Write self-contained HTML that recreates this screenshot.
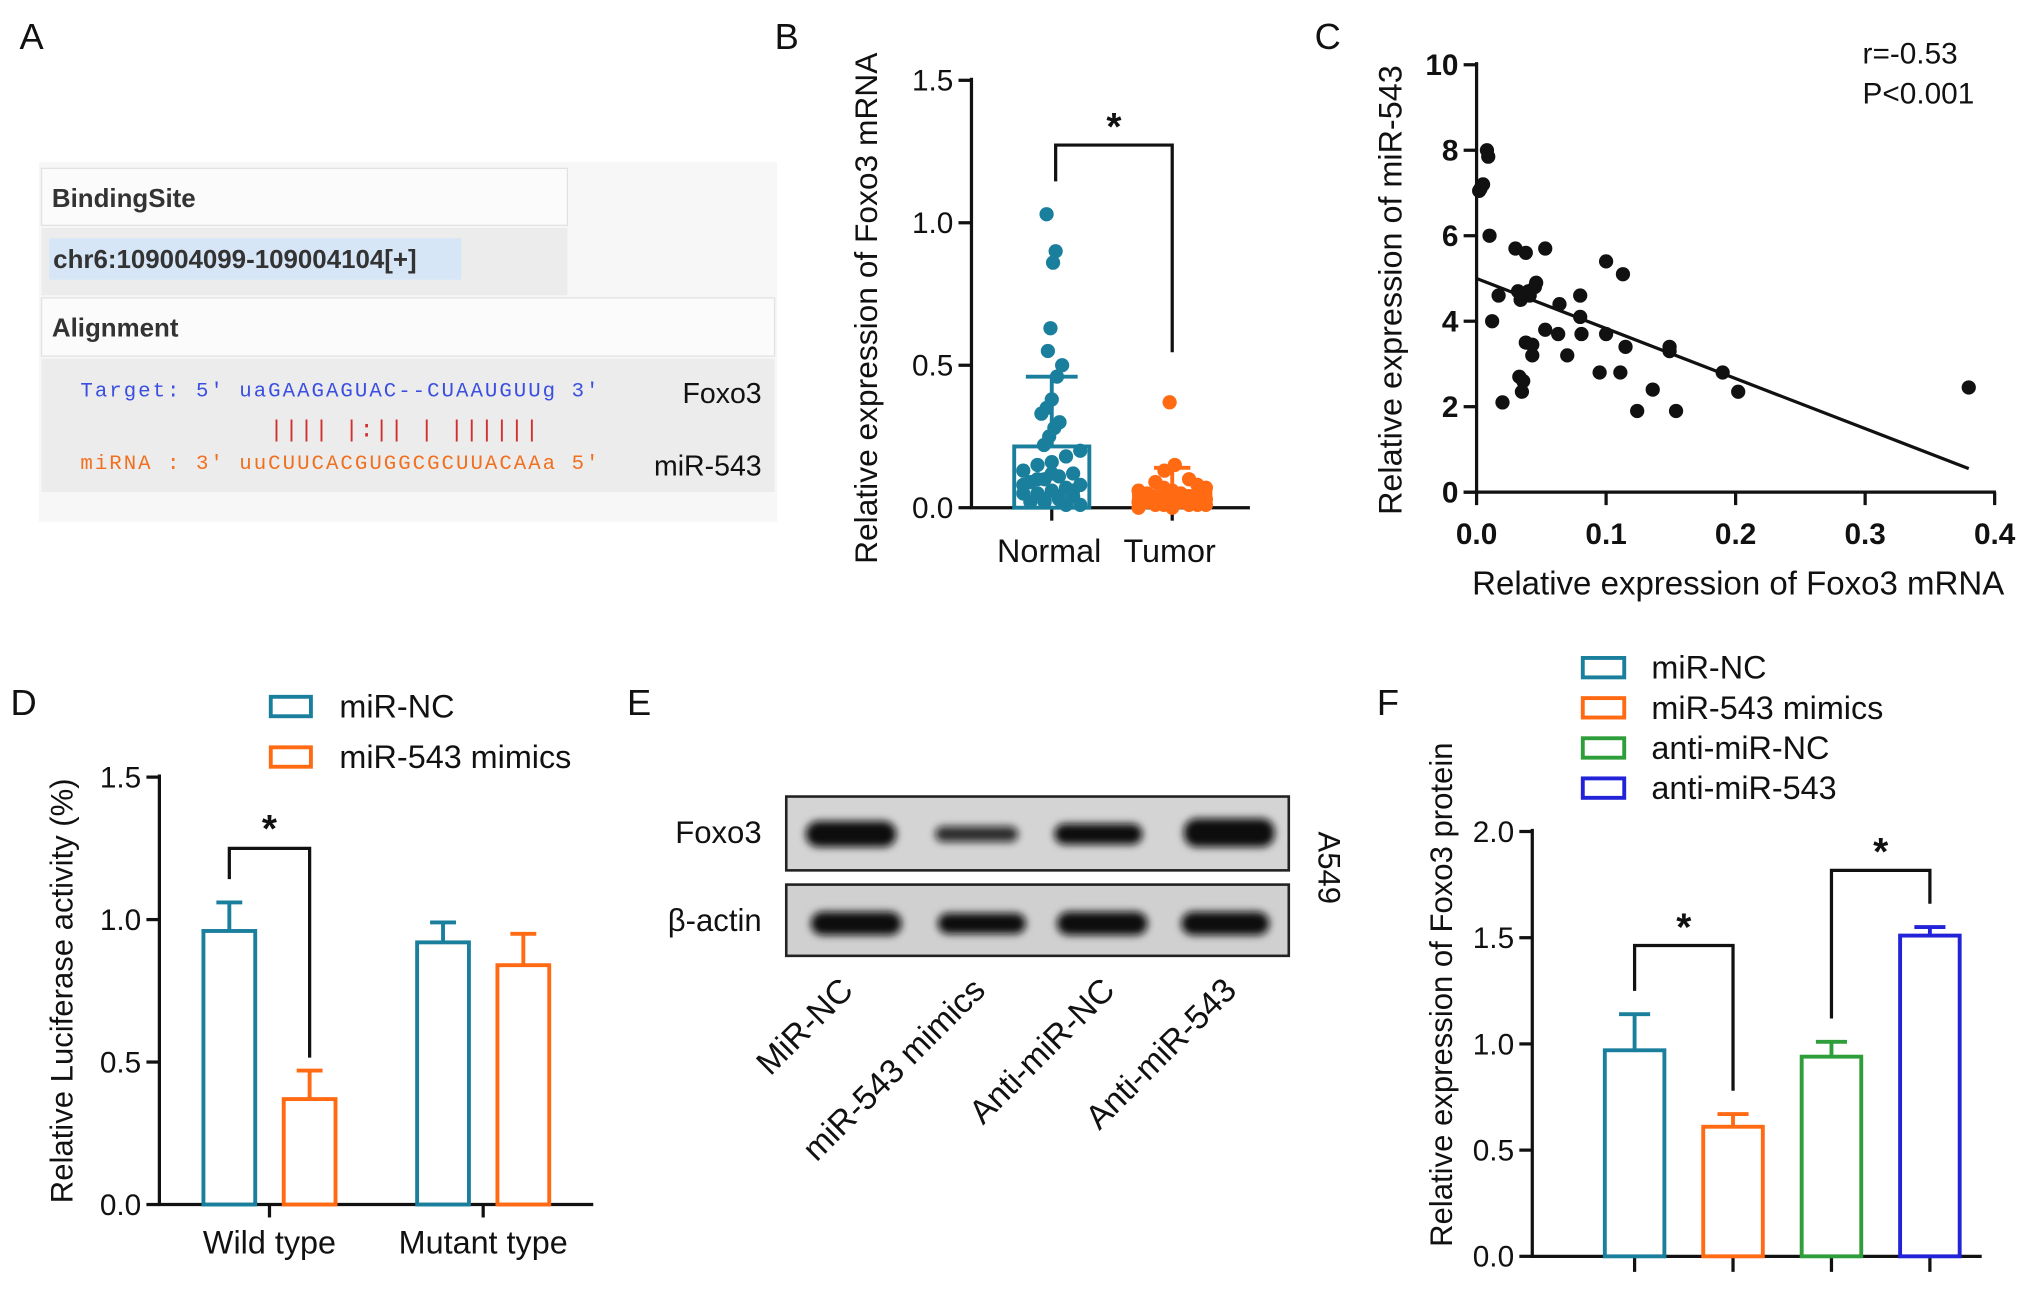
<!DOCTYPE html>
<html><head><meta charset="utf-8"><style>
html,body{margin:0;padding:0;background:#fff;}
svg{display:block;}
text{font-family:"Liberation Sans",Arial,sans-serif;}
.mono{font-family:"Liberation Mono","DejaVu Sans Mono",monospace;}
</style></head><body>
<svg id="fig" width="2031" height="1290" viewBox="0 0 1568 996" xmlns="http://www.w3.org/2000/svg">
<g font-size="28" fill="#111">
<text x="15" y="38">A</text>
<text x="598" y="38">B</text>
<text x="1015" y="38">C</text>
<text x="8" y="552">D</text>
<text x="484" y="552">E</text>
<text x="1063" y="552">F</text>
</g>
<g>
<rect x="30" y="125" width="570" height="278" fill="#f7f7f7"/>
<rect x="32" y="130" width="406" height="44" fill="#fbfbfb" stroke="#e2e2e2"/>
<text x="40" y="160" font-size="20" font-weight="bold" fill="#333">BindingSite</text>
<rect x="32" y="176" width="406" height="52" fill="#ececec"/>
<rect x="38" y="184" width="318" height="32" fill="#d6e6f7"/>
<text x="41" y="207" font-size="20" font-weight="bold" fill="#333">chr6:109004099-109004104[+]</text>
<rect x="32" y="230" width="566" height="45" fill="#fbfbfb" stroke="#e2e2e2"/>
<text x="40" y="260" font-size="20" font-weight="bold" fill="#333">Alignment</text>
<rect x="32" y="277" width="566" height="103" fill="#ececec"/>
<text x="62" y="306" font-size="16" class="mono" fill="#3a4fe0" textLength="400" lengthAdjust="spacing">Target: 5' uaGAAGAGUAC--CUAAUGUUg 3'</text>
<text x="208" y="337" font-size="18" class="mono" fill="#d03030" textLength="208" lengthAdjust="spacing">|||| |:|| | ||||||</text>
<text x="62" y="362" font-size="16" class="mono" fill="#f07020" textLength="400" lengthAdjust="spacing">miRNA : 3' uuCUUCACGUGGCGCUUACAAa 5'</text>
<text x="588" y="311" font-size="22" fill="#111" text-anchor="end">Foxo3</text>
<text x="588" y="367" font-size="22" fill="#111" text-anchor="end">miR-543</text>
</g>
<g id="pB"></g>
<g id="pC"></g>
<g id="pD"></g>
<g>
<defs><filter id="blur" x="-20%" y="-50%" width="140%" height="200%"><feGaussianBlur stdDeviation="3"/></filter></defs>
<rect x="607" y="615" width="388" height="57" fill="#d4d4d4" stroke="#222" stroke-width="2"/>
<rect x="607" y="683" width="388" height="55" fill="#d0d0d0" stroke="#222" stroke-width="2"/>
<g filter="url(#blur)" fill="#0a0a0a">
<rect x="622" y="634" width="70" height="20" rx="10"/>
<rect x="722" y="638" width="64" height="12" rx="6" opacity="0.85"/>
<rect x="814" y="636" width="68" height="16" rx="8"/>
<rect x="914" y="632" width="70" height="22" rx="10"/>
<rect x="626" y="704" width="70" height="18" rx="9"/>
<rect x="724" y="705" width="68" height="16" rx="8"/>
<rect x="816" y="704" width="70" height="18" rx="9"/>
<rect x="912" y="704" width="68" height="18" rx="9"/>
</g>
<text x="588" y="651" font-size="24" text-anchor="end" fill="#111">Foxo3</text>
<text x="588" y="719" font-size="24" text-anchor="end" fill="#111">β-actin</text>
<text transform="translate(1018,642) rotate(90)" font-size="24" fill="#111">A549</text>
<g font-size="26" fill="#111" text-anchor="end">
<text transform="translate(660,766) rotate(-45)">MiR-NC</text>
<text transform="translate(762,766) rotate(-45)">miR-543 mimics</text>
<text transform="translate(862,766) rotate(-45)">Anti-miR-NC</text>
<text transform="translate(956,766) rotate(-45)">Anti-miR-543</text>
</g>
</g>
<g id="pF"></g>
</svg>
<script>
// ---------- Panel B data ----------
const bCategories = ["Normal", "Tumor"];
const bMeans = [0.215, 0.065];
const bSD = [0.245, 0.075];
const bNormalPoints = [1.03,0.9,0.86,0.63,0.55,0.5,0.46,0.38,0.35,0.33,0.3,0.28,0.25,0.22,0.2,0.18,0.16,0.15,0.13,0.12,0.11,0.1,0.09,0.08,0.07,0.06,0.05,0.05,0.04,0.03,0.02,0.02,0.01,0.01,0.12,0.1,0.08,0.06,0.04,0.03];
const bTumorPoints = [0.37,0.15,0.13,0.1,0.09,0.08,0.07,0.07,0.06,0.06,0.05,0.05,0.04,0.04,0.03,0.03,0.03,0.02,0.02,0.02,0.02,0.01,0.01,0.01,0.01,0.01,0.0,0.0,0.05,0.04,0.03,0.02];
const bTicks = [0, 0.5, 1.0, 1.5];
const bTickLabels = ["0.0", "0.5", "1.0", "1.5"];
// ---------- Panel C data ----------
const cX = [0.008,0.009,0.005,0.002,0.003,0.01,0.012,0.017,0.02,0.03,0.032,0.034,0.035,0.033,0.036,0.038,0.038,0.04,0.041,0.043,0.043,0.045,0.046,0.053,0.053,0.064,0.063,0.07,0.08,0.08,0.081,0.095,0.1,0.1,0.111,0.113,0.115,0.124,0.136,0.149,0.149,0.154,0.19,0.202,0.38];
const cY = [8.0,7.85,7.2,7.05,7.1,6.0,4.0,4.6,2.1,5.7,4.7,4.5,2.35,2.7,2.6,5.6,3.5,4.7,4.6,3.45,3.2,4.8,4.9,5.7,3.8,4.4,3.7,3.2,4.6,4.1,3.7,2.8,5.4,3.7,2.8,5.1,3.4,1.9,2.4,3.4,3.3,1.9,2.8,2.35,2.45];
const cFitX = [0, 0.38];
const cFitY = [5.0, 0.55];
const cXTicks = [0, 0.1, 0.2, 0.3, 0.4];
const cXTickLabels = ["0.0", "0.1", "0.2", "0.3", "0.4"];
const cYTicks = [0, 2, 4, 6, 8, 10];
// ---------- Panel D data ----------
const dGroups = ["Wild type", "Mutant type"];
const dSeries = ["miR-NC", "miR-543 mimics"];
const dNC = [0.96, 0.92];
const dNCerr = [0.10, 0.07];
const dMimics = [0.37, 0.84];
const dMimicsErr = [0.10, 0.11];
const dTicks = [0, 0.5, 1.0, 1.5];
const dTickLabels = ["0.0", "0.5", "1.0", "1.5"];
// ---------- Panel F data ----------
const fSeries = ["miR-NC", "miR-543 mimics", "anti-miR-NC", "anti-miR-543"];
const fValues = [0.97, 0.61, 0.94, 1.51];
const fErr = [0.17, 0.06, 0.07, 0.04];
const fTicks = [0, 0.5, 1.0, 1.5, 2.0];
const fTickLabels = ["0.0", "0.5", "1.0", "1.5", "2.0"];

const NS = "http://www.w3.org/2000/svg";
const TEAL = "#1a7f9c", ORANGE = "#ff6a13", GREEN = "#2e9e3a", BLUE = "#2222d8";
function mk(parent, tag, attrs, text) {
  const e = document.createElementNS(NS, tag);
  for (const k in attrs) e.setAttribute(k, attrs[k]);
  if (text !== undefined) e.textContent = text;
  parent.appendChild(e);
  return e;
}
function line(p, x1, y1, x2, y2, c, w) { return mk(p, "line", {x1, y1, x2, y2, stroke: c || "#111", "stroke-width": w || 2.5}); }

// ======== Panel B ========
(function () {
  const g = document.getElementById("pB");
  const X0 = 750, X1 = 965, Y0 = 392, Y1 = 62, vmax = 1.5;
  const y = v => Y0 - (v / vmax) * (Y0 - Y1);
  const cx = [812, 905];
  line(g, X0, Y0, X0, Y1 - 2);
  line(g, X0 - 1, Y0, X1, Y0);
  bTicks.forEach((t, i) => {
    line(g, X0 - 10, y(t), X0, y(t));
    const tl = mk(g, "text", {x: X0 - 14, y: y(t) + 8, "font-size": 23, "text-anchor": "end", fill: "#111"}, bTickLabels[i]);
    
    
  });
  const yt = mk(g, "text", {transform: "translate(677,238) rotate(-90)", "font-size": 24.5, "text-anchor": "middle", fill: "#111"}, "Relative expression of Foxo3 mRNA");
  
  
  bCategories.forEach((c, i) => {
    line(g, cx[i], Y0, cx[i], Y0 + 10);
    const t = mk(g, "text", {x: cx[i] - 2, y: Y0 + 42, "font-size": 25, "text-anchor": "middle", fill: "#111"}, c);
    
    
  });
  const nb = mk(g, "rect", {x: cx[0] - 29, y: y(bMeans[0]), width: 58, height: Y0 - y(bMeans[0]), fill: "none", stroke: TEAL, "stroke-width": 3});
  
  
  line(g, cx[0], y(bMeans[0]), cx[0], y(bMeans[0] + bSD[0]), TEAL, 3);
  line(g, cx[0] - 20, y(bMeans[0] + bSD[0]), cx[0] + 20, y(bMeans[0] + bSD[0]), TEAL, 3);
  bNormalPoints.forEach((v, i) => {
    const off = ((i * 7) % 9 - 4) * (v > 0.5 ? 1 : v > 0.2 ? 2 : 5.5);
    const d = mk(g, "circle", {cx: cx[0] + off, cy: y(v), r: 5.5, fill: TEAL});
    
    
  });
  const tb = mk(g, "rect", {x: cx[1] - 31, y: y(bMeans[1]), width: 62, height: Y0 - y(bMeans[1]), fill: ORANGE});
  
  
  line(g, cx[1], y(bMeans[1]), cx[1], y(bMeans[1] + bSD[1]), ORANGE, 3);
  line(g, cx[1] - 14, y(bMeans[1] + bSD[1]), cx[1] + 14, y(bMeans[1] + bSD[1]), ORANGE, 3);
  bTumorPoints.forEach((v, i) => {
    const off = ((i * 5) % 9 - 4) * (v > 0.2 ? 0.5 : v > 0.1 ? 2 : 6.5);
    const d = mk(g, "circle", {cx: cx[1] + off, cy: y(v), r: 5.5, fill: ORANGE});
    
    
  });
  const br = mk(g, "polyline", {points: `${cx[0]+3},140 ${cx[0]+3},112 ${cx[1]},112 ${cx[1]},272`, fill: "none", stroke: "#111", "stroke-width": 2.5});
  
  
  const st = mk(g, "text", {x: 860, y: 108, "font-size": 30, "font-weight": "bold", "text-anchor": "middle", fill: "#111"}, "*");
  
  
})();

// ======== Panel C ========
(function () {
  const g = document.getElementById("pC");
  const X0 = 1140, X1 = 1540, Y0 = 380, Y1 = 50;
  const x = v => X0 + (v / 0.4) * (X1 - X0);
  const y = v => Y0 - (v / 10) * (Y0 - Y1);
  line(g, X0, Y0, X0, Y1 - 2);
  line(g, X0 - 10, Y0, X1 + 1, Y0);
  cYTicks.forEach(t => {
    line(g, X0 - 10, y(t), X0, y(t));
    const tl = mk(g, "text", {x: X0 - 14, y: y(t) + 8, "font-size": 23, "font-weight": "bold", "text-anchor": "end", fill: "#111"}, String(t));
    
    
  });
  cXTicks.forEach((t, i) => {
    line(g, x(t), Y0, x(t), Y0 + 10);
    const tl = mk(g, "text", {x: x(t), y: Y0 + 40, "font-size": 23, "font-weight": "bold", "text-anchor": "middle", fill: "#111"}, cXTickLabels[i]);
    
    
  });
  const xt = mk(g, "text", {x: 1342, y: 459, "font-size": 25.5, "text-anchor": "middle", fill: "#111"}, "Relative expression of Foxo3 mRNA");
  
  
  const yt = mk(g, "text", {transform: "translate(1082,224) rotate(-90)", "font-size": 25, "text-anchor": "middle", fill: "#111"}, "Relative expression of miR-543");
  
  
  const fit = mk(g, "line", {x1: x(cFitX[0]), y1: y(cFitY[0]), x2: x(cFitX[1]), y2: y(cFitY[1]), stroke: "#111", "stroke-width": 2.5});
  
  
  cX.forEach((v, i) => {
    const d = mk(g, "circle", {cx: x(v), cy: y(cY[i]), r: 5.5, fill: "#111"});
    
    
  });
  const r = mk(g, "text", {x: 1438, y: 49, "font-size": 23, fill: "#111"}, "r=-0.53");
  
  
  const p = mk(g, "text", {x: 1438, y: 80, "font-size": 23, fill: "#111"}, "P<0.001");
  
  
})();

// ======== Panel D ========
(function () {
  const g = document.getElementById("pD");
  const X0 = 123, X1 = 458, Y0 = 930, Y1 = 600;
  const y = v => Y0 - (v / 1.5) * (Y0 - Y1);
  const gx = [208, 373];
  line(g, X0, Y0, X0, Y1 - 2);
  line(g, X0 - 1, Y0, X1, Y0);
  dTicks.forEach((t, i) => {
    line(g, X0 - 10, y(t), X0, y(t));
    const tl = mk(g, "text", {x: X0 - 14, y: y(t) + 8, "font-size": 23, "text-anchor": "end", fill: "#111"}, dTickLabels[i]);
    
    
  });
  const yt = mk(g, "text", {transform: "translate(56,765) rotate(-90)", "font-size": 24, "text-anchor": "middle", fill: "#111"}, "Relative Luciferase activity (%)");
  
  
  dGroups.forEach((c, i) => {
    line(g, gx[i], Y0, gx[i], Y0 + 10);
    const t = mk(g, "text", {x: gx[i], y: Y0 + 38, "font-size": 25, "text-anchor": "middle", fill: "#111"}, c);
    
    
  });
  const bw = 40;
  function bar(cxp, v, e, col, name) {
    const b = mk(g, "rect", {x: cxp - bw / 2, y: y(v), width: bw, height: Y0 - y(v), fill: "none", stroke: col, "stroke-width": 3});
    
    
    line(g, cxp, y(v), cxp, y(v + e), col, 3);
    line(g, cxp - 10, y(v + e), cxp + 10, y(v + e), col, 3);
  }
  dNC.forEach((v, i) => bar(gx[i] - 31, v, dNCerr[i], TEAL, 'bar-mir-nc'));
  dMimics.forEach((v, i) => bar(gx[i] + 31, v, dMimicsErr[i], ORANGE, 'bar-mir-543-mimics'));
  const br = mk(g, "polyline", {points: `${gx[0]-31},${y(dNC[0]+dNCerr[0])-18} ${gx[0]-31},655 ${gx[0]+31},655 ${gx[0]+31},${y(dMimics[0]+dMimicsErr[0])-10}`, fill: "none", stroke: "#111", "stroke-width": 2.5});
  
  
  const st = mk(g, "text", {x: 208, y: 650, "font-size": 30, "font-weight": "bold", "text-anchor": "middle", fill: "#111"}, "*");
  
  
  [TEAL, ORANGE].forEach((c, i) => {
    const r = mk(g, "rect", {x: 209, y: 538 + i * 39, width: 31, height: 15, fill: "none", stroke: c, "stroke-width": 3});
    
    
    const t = mk(g, "text", {x: 262, y: 554 + i * 39, "font-size": 25, fill: "#111"}, dSeries[i]);
    
    
  });
})();

// ======== Panel F ========
(function () {
  const g = document.getElementById("pF");
  const X0 = 1183, X1 = 1530, Y0 = 970, Y1 = 642;
  const y = v => Y0 - (v / 2.0) * (Y0 - Y1);
  const cx = [1262, 1338, 1414, 1490];
  const cols = [TEAL, ORANGE, GREEN, BLUE];
  line(g, X0, Y0, X0, Y1 - 2);
  line(g, X0 - 1, Y0, X1, Y0);
  fTicks.forEach((t, i) => {
    line(g, X0 - 10, y(t), X0, y(t));
    const tl = mk(g, "text", {x: X0 - 14, y: y(t) + 8, "font-size": 23, "text-anchor": "end", fill: "#111"}, fTickLabels[i]);
    
    
  });
  const yt = mk(g, "text", {transform: "translate(1140,768) rotate(-90)", "font-size": 24, "text-anchor": "middle", fill: "#111"}, "Relative expression of Foxo3 protein");
  yt.setAttribute('transform', 'translate(1121,768) rotate(-90)');
  
  
  const bw = 46;
  fValues.forEach((v, i) => {
    line(g, cx[i], Y0, cx[i], Y0 + 12);
    const b = mk(g, "rect", {x: cx[i] - bw / 2, y: y(v), width: bw, height: Y0 - y(v), fill: "none", stroke: cols[i], "stroke-width": 3});
    
    
    line(g, cx[i], y(v), cx[i], y(v + fErr[i]), cols[i], 3);
    line(g, cx[i] - 12, y(v + fErr[i]), cx[i] + 12, y(v + fErr[i]), cols[i], 3);
    const r = mk(g, "rect", {x: 1222, y: 508 + i * 31, width: 32, height: 15, fill: "none", stroke: cols[i], "stroke-width": 3});
    
    
    const t = mk(g, "text", {x: 1275, y: 524 + i * 31, "font-size": 25, fill: "#111"}, fSeries[i]);
    
    
  });
  function bracket(a, b, yy, sx) {
    const p = mk(g, "polyline", {points: `${cx[a]},${y(fValues[a]+fErr[a])-18} ${cx[a]},${yy} ${cx[b]},${yy} ${cx[b]},${y(fValues[b]+fErr[b])-18}`, fill: "none", stroke: "#111", "stroke-width": 2.5});
    
    
    const s = mk(g, "text", {x: sx, y: yy - 4, "font-size": 30, "font-weight": "bold", "text-anchor": "middle", fill: "#111"}, "*");
    
    
  }
  bracket(0, 1, 730, 1300);
  bracket(2, 3, 672, 1452);
})();
</script>
</body></html>
